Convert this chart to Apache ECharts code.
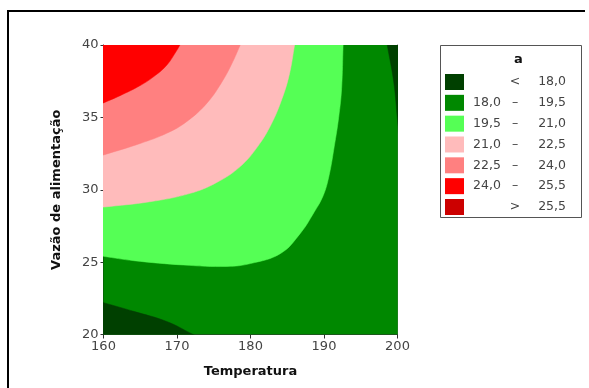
<!DOCTYPE html>
<html>
<head>
<meta charset="utf-8">
<script src="https://cdn.jsdelivr.net/npm/echarts@6/dist/echarts.min.js"></script>
<style>
  html, body { margin: 0; padding: 0; background: #fff; }
  #chart { width: 589px; height: 388px; }
</style>
</head>
<body>
<div id="chart"></div>
<script>
// contour levels (legend)
const levelNames = ['< 18,0', '18,0 – 19,5', '19,5 – 21,0', '21,0 – 22,5', '22,5 – 24,0', '24,0 – 25,5', '> 25,5'];
const levelColors = ['#004000', '#008800', '#55FF55', '#FFBBBB', '#FF8080', '#FF0000', '#CC0000'];

// contour lines, [Temperatura, Vazão], edge to edge
const lineLowBottomLeft = [[160, 22.2], [164.1, 21.6], [168.6, 20.9], [172.2, 20]];
const lineLowTopRight = [[198.6, 40], [199.5, 37.4], [200, 34.8]];
const lineLightGreen = [[192.6, 40], [192.4, 37], [192.0, 35], [191.4, 33], [190.7, 31],
  [189.9, 29.6], [188.6, 28.4], [186.8, 27.0], [184.1, 25.6], [180, 24.9], [176.8, 24.7],
  [170.9, 24.8], [164.1, 25.1], [160, 25.4]];
const linePink = [[186.0, 40], [185.3, 38], [184.3, 36.3], [182.8, 34.5], [181.0, 33.0],
  [178.6, 31.6], [175.4, 30.5], [171.8, 29.75], [166.3, 29.17], [160, 28.8]];
const lineSalmon = [[178.6, 40], [177.7, 38.96], [176.3, 37.6], [174.1, 36.0], [171.3, 34.7],
  [168.6, 33.9], [165.0, 33.2], [160, 32.4]];
const lineRed = [[170.4, 40], [170.0, 39.65], [168.6, 38.6], [166.8, 37.8], [165.0, 37.2],
  [162.25, 36.5], [160, 36.0]];

const xTicks = [160, 170, 180, 190, 200];
const yTicks = [20, 25, 30, 35, 40];

// close a contour line into a region: run each end on past the plot edge
// along its own direction, then round a corner outside the plot (clipped away)
function closeRegion(line, corner) {
  const n = line.length;
  const ext = (p, q) => [p[0] + (p[0] - q[0]) * 2, p[1] + (p[1] - q[1]) * 2];
  return [...line, ext(line[n - 1], line[n - 2]), corner, ext(line[0], line[1])];
}

const seriesRegions = [
  { level: 1, polys: [[[160, 20], [200, 20], [200, 40], [160, 40]]], smooth: 0 },
  { level: 0, polys: [closeRegion(lineLowBottomLeft, [150, 10]), closeRegion(lineLowTopRight, [210, 50])], smooth: 0.4 },
  { level: 2, polys: [closeRegion(lineLightGreen, [150, 50])], smooth: 0.4 },
  { level: 3, polys: [closeRegion(linePink, [150, 50])], smooth: 0.4 },
  { level: 4, polys: [closeRegion(lineSalmon, [150, 50])], smooth: 0.4 },
  { level: 5, polys: [closeRegion(lineRed, [150, 50])], smooth: 0.4 },
  { level: 6, polys: [], smooth: 0 }
];

const font = 'DejaVu Sans';
const chart = echarts.init(document.getElementById('chart'));

const series = seriesRegions.map((s) => ({
  name: levelNames[s.level],
  type: 'custom',
  coordinateSystem: 'cartesian2d',
  clip: true,
  silent: true,
  animation: false,
  itemStyle: { color: levelColors[s.level] },
  data: s.polys.map((p) => p[0]),
  renderItem: (params, api) => ({
    type: 'polygon',
    shape: { points: s.polys[params.dataIndex].map((p) => api.coord(p)), smooth: s.smooth },
    style: { fill: levelColors[s.level], stroke: levelColors[s.level], lineWidth: 0.5 }
  })
}));

const legendRich = {
  a: { width: 36, align: 'right', fontFamily: font, fontSize: 12.5, color: '#444' },
  b: { width: 20, align: 'center', fontFamily: font, fontSize: 12.5, color: '#444' },
  c: { width: 41, align: 'right', fontFamily: font, fontSize: 12.5, color: '#444' }
};

chart.setOption({
  backgroundColor: '#fff',
  animation: false,
  grid: { left: 103.5, right: 191.5, top: 45, bottom: 53.5 },
  xAxis: [
    {
      type: 'value', min: 160, max: 200, interval: 10,
      name: 'Temperatura', nameLocation: 'middle', nameGap: 31,
      nameTextStyle: { fontFamily: font, fontSize: 13, fontWeight: 'bold', color: '#111' },
      axisLine: { show: true, lineStyle: { color: '#333', width: 1 } },
      axisTick: { show: true, length: 4, lineStyle: { color: '#333' } },
      axisLabel: { fontFamily: font, fontSize: 13, color: '#444', margin: 6,
        formatter: (v) => (xTicks.includes(v) ? String(v) : '') },
      splitLine: { show: false }
    },
    {
      type: 'value', position: 'top', min: 160, max: 200,
      axisLine: { show: true, onZero: false, lineStyle: { color: '#111', width: 1 } },
      axisTick: { show: false }, axisLabel: { show: false }, splitLine: { show: false }
    }
  ],
  yAxis: [
    {
      type: 'value', min: 20, max: 40, interval: 5,
      name: 'Vazão de alimentação', nameLocation: 'middle', nameGap: 40,
      nameTextStyle: { fontFamily: font, fontSize: 13, fontWeight: 'bold', color: '#111' },
      axisLine: { show: true, lineStyle: { color: '#111', width: 1 } },
      axisTick: { show: true, length: 3, lineStyle: { color: '#333' } },
      axisLabel: { fontFamily: font, fontSize: 13, color: '#444', margin: 5,
        formatter: (v) => (yTicks.includes(v) ? String(v) : '') },
      splitLine: { show: false }
    },
    {
      type: 'value', position: 'right', min: 20, max: 40,
      axisLine: { show: true, onZero: false, lineStyle: { color: '#666', width: 1 } },
      axisTick: { show: false }, axisLabel: { show: false }, splitLine: { show: false }
    }
  ],
  legend: {
    orient: 'vertical',
    left: 445,
    top: 74,
    padding: 0,
    itemWidth: 19,
    itemHeight: 16,
    itemGap: 4.83,
    icon: 'rect',
    selectedMode: false,
    data: levelNames,
    formatter: (name) => {
      if (name.startsWith('<') || name.startsWith('>')) {
        return '{a|}{b|' + name.charAt(0) + '}{c|' + name.slice(2) + '}';
      }
      const parts = name.split(' – ');
      return '{a|' + parts[0] + '}{b|–}{c|' + parts[1] + '}';
    },
    textStyle: { rich: legendRich }
  },
  graphic: [
    { type: 'line', shape: { x1: 7, y1: 11, x2: 585, y2: 11 }, style: { stroke: '#000', lineWidth: 2 } },
    { type: 'line', shape: { x1: 8, y1: 10, x2: 8, y2: 388 }, style: { stroke: '#000', lineWidth: 2 } },
    { type: 'rect', shape: { x: 440.5, y: 45.5, width: 141, height: 172 },
      style: { fill: 'none', stroke: '#555', lineWidth: 1 }, z: 10 },
    { type: 'text', left: 514, top: 53,
      style: { text: 'a', fontFamily: font, fontSize: 13, fontWeight: 'bold', fill: '#111' } }
  ],
  series: series
});
</script>
</body>
</html>
